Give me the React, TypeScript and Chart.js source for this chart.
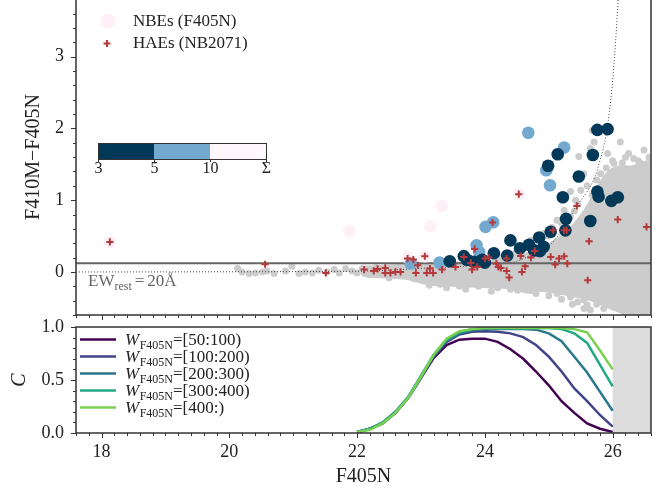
import React, { useEffect, useRef } from 'react';
import { Chart, registerables } from 'chart.js';
Chart.register(...registerables);

const SERIF = '"Liberation Serif", "Times New Roman", serif';
const TXT = '#222';

// ---------------- top panel data (x = F405N, y = F410M - F405N) ----------------
const xMin = 17.6;
const xMax = 26.6;
const yTopMin = -0.6;
const yTopMax = 3.79;
const ewLevel = 0.12;

// dense grey cloud envelope (upper edge left->right, then lower edge right->left)
const cloudMag = [22.1, 22.5, 23.0, 23.5, 24.0, 24.3, 24.6, 24.9, 25.1, 25.3, 25.5, 25.65, 25.8, 25.95, 26.1, 26.3, 26.6,
  26.6, 26.3, 26.0, 25.7, 25.3, 24.9, 24.5, 24.0, 23.5, 23.1, 22.8, 22.5, 22.1, 22.1];
const cloudColor = [0.05, 0.07, 0.09, 0.11, 0.13, 0.16, 0.22, 0.32, 0.42, 0.55, 0.75, 0.95, 1.2, 1.38, 1.45, 1.45, 1.5,
  -0.6, -0.58, -0.5, -0.38, -0.3, -0.24, -0.21, -0.19, -0.17, -0.15, -0.08, -0.06, -0.03, 0.05];

// individual grey sources
const greyMag = [20.13, 20.2, 20.31, 20.41, 20.52, 20.59, 20.7, 20.88, 20.98, 21.09, 21.19, 21.3, 21.4, 21.53, 21.64, 21.72,
  21.82, 21.92, 22.0, 22.08, 22.2, 22.3, 22.5, 22.7, 22.9, 23.13, 23.3, 23.6, 23.9, 24.2, 24.4, 24.6, 24.51, 24.66, 24.72, 24.87,
  25.13, 25.34, 25.37, 25.55, 25.71, 25.81, 25.92, 25.55, 25.65, 25.86, 26.05, 26.18, 26.39, 26.28, 26.5,
  25.68, 25.71, 26.12, 26.25, 26.49, 25.47, 25.92, 25.65, 25.55, 25.34, 25.5, 25.42, 25.68, 25.81, 26.02, 26.2, 26.33,
  26.44, 26.57, 25.24, 25.34, 25.13, 24.92, 24.72, 24.45, 24.25, 23.95,
  24.3, 24.5, 24.7, 24.8, 25.0, 25.05, 25.2, 25.4, 25.45, 25.6, 25.75, 25.9, 26.0, 26.15, 26.4, 26.55,
  23.4, 23.7, 24.1, 24.8, 25.0, 25.2, 25.45, 25.6, 25.75];
const greyColor = [0.047, 0, -0.023, -0.014, 0, 0.014, -0.023, 0.014, 0.08, -0.023, 0, -0.014, 0.023, 0, 0.033, -0.014,
  0.047, 0.014, -0.014, 0.047, -0.04, 0.06, -0.08, 0.08, -0.1, -0.186, -0.17, -0.2, -0.2, -0.22, -0.24, -0.24, -0.255, -0.255, -0.26, -0.23,
  -0.3, -0.35, -0.45, -0.39, -0.37, -0.42, -0.44, -0.51, -0.53, -0.51, -0.45, -0.56, -0.58, -0.44, -0.5,
  1.97, 1.81, 1.81, 1.65, 1.7, 1.61, 1.65, 1.72, 1.37, 1.12, 1.14, 1.0, 1.07, 1.37, 1.51, 1.6, 1.58,
  1.51, 1.6, 0.86, 0.77, 0.72, 0.535, 0.44, 0.25, 0.2, 0.16,
  0.22, 0.28, 0.38, 0.45, 0.5, 0.62, 0.68, 0.85, 0.95, 1.2, 1.28, 1.45, 1.55, 1.52, 1.55, 1.45,
  -0.22, -0.24, -0.27, -0.3, -0.33, -0.38, -0.42, -0.46, -0.45];

// EW_rest = 20A selection curve
const ewCurveMag = [17.6, 22.0, 22.6, 23.0, 23.5, 24.0, 24.5, 24.75, 25.0, 25.11, 25.26, 25.42, 25.6, 25.71, 25.81, 25.89, 25.97, 26.03, 26.09];
const ewCurveColor = [0, 0.01, 0.03, 0.05, 0.07, 0.1, 0.15, 0.25, 0.36, 0.465, 0.65, 0.9, 1.12, 1.3, 1.58, 1.88, 2.39, 3.0, 3.85];

// NBEs coloured by significance: Sigma (pink), 5-10 (light blue), 3-5 (dark)
const nbeSigMag = [18.13, 21.88, 23.33, 23.14, 24.53, 22.79, 23.06];
const nbeSigColor = [0.418, 0.572, 0.92, 0.637, 1.084, 0.2, 0.219];
const nbe5Mag = [24.68, 25.24, 24.96, 25.02, 24.01, 24.13, 23.87, 23.91, 23.29, 22.84];
const nbe5Color = [1.94, 1.735, 1.418, 1.209, 0.628, 0.693, 0.372, 0.279, 0.131, 0.117];
const nbe3Mag = [23.45, 23.67, 23.72, 23.83, 23.96, 24.0, 24.14, 24.35, 24.4, 24.55, 24.69, 24.77, 24.85, 24.92, 24.86,
  25.03, 25.26, 25.27, 25.22, 25.65, 25.47, 25.76, 25.78, 25.98, 26.08, 24.99, 25.14, 25.69, 25.76, 25.92];
const nbe3Color = [0.15, 0.22, 0.17, 0.14, 0.17, 0.13, 0.26, 0.23, 0.44, 0.33, 0.38, 0.3, 0.48, 0.35, 0.29,
  0.56, 0.58, 0.74, 1.04, 0.71, 1.33, 1.12, 1.05, 0.99, 1.04, 1.48, 1.64, 1.63, 1.98, 1.99];

// HAEs (NB2071)
const haeMag = [18.13, 20.56, 21.51, 22.11, 22.26, 22.32, 22.44, 22.44, 22.52, 22.6, 22.68, 22.79, 22.88, 22.95, 22.92,
  23.06, 23.14, 23.09, 23.19, 23.33, 23.54, 23.67, 23.78, 23.8, 23.84, 23.88, 24.0, 24.06, 24.12, 24.18, 24.21, 24.25,
  24.34, 24.34, 24.38, 24.53, 24.56, 24.58, 24.63, 24.72, 24.78, 25.03, 25.07, 25.1, 25.16, 25.24, 25.28, 25.24, 25.29,
  25.44, 25.63, 25.61, 26.08, 26.53];
const haeColor = [0.418, 0.107, -0.014, 0.033, 0.014, 0.042, 0.056, -0.014, -0.014, 0, 0, 0.187, 0.173, 0.093, -0.014,
  0.219, 0.047, -0.014, -0.014, 0.033, 0.07, 0.209, 0.126, 0.033, 0.321, 0.07, 0.187, 0.201, 0.689, 0.117, 0.07, 0.056,
  0.187, 0.014, -0.078, 1.084, 0.223, 0, 0.079, 0.2, 0.293, 0.209, 0.58, 0.103, 0.187, 0.58, 0.58, 0.219, 0.117,
  0.92, 0.428, -0.116, 0.73, 0.628];

const topYTicks = [0, 1, 2, 3];
const cbarLabels = ['3', '5', '10', 'Σ'];
const cbarColors = ['#023858', '#74a9cf', '#fff7fb'];

// ---------------- bottom panel data (completeness) ----------------
const compMag = [22.0, 22.2, 22.4, 22.6, 22.8, 23.0, 23.2, 23.4, 23.6, 23.8, 24.0, 24.2, 24.4, 24.6, 24.8, 25.0, 25.2, 25.4, 25.6, 25.8, 26.0];
const compW50 = [0.006, 0.04, 0.09, 0.19, 0.33, 0.52, 0.71, 0.83, 0.88, 0.89, 0.89, 0.86, 0.79, 0.7, 0.58, 0.45, 0.3, 0.19, 0.09, 0.04, 0.01];
const compW100 = [0.01, 0.04, 0.09, 0.19, 0.33, 0.52, 0.72, 0.86, 0.93, 0.955, 0.96, 0.955, 0.94, 0.905, 0.83, 0.72, 0.58, 0.42, 0.3, 0.17, 0.06];
const compW200 = [0.01, 0.04, 0.1, 0.2, 0.34, 0.53, 0.73, 0.87, 0.94, 0.97, 0.98, 0.98, 0.98, 0.98, 0.975, 0.94, 0.865, 0.72, 0.57, 0.39, 0.21];
const compW300 = [0.01, 0.04, 0.1, 0.2, 0.34, 0.54, 0.74, 0.88, 0.95, 0.98, 0.99, 0.99, 0.99, 0.99, 0.99, 0.99, 0.98, 0.94, 0.85, 0.645, 0.44];
const compW400 = [0.01, 0.03, 0.09, 0.19, 0.33, 0.53, 0.74, 0.89, 0.96, 0.98, 0.99, 0.99, 0.99, 0.99, 0.99, 0.99, 0.99, 0.98, 0.95, 0.78, 0.6];
const compSeries = [compW50, compW100, compW200, compW300, compW400];
const compLabels = ['=[50:100)', '=[100:200)', '=[200:300)', '=[300:400)', '=[400:)'];
const compColors = ['#440154', '#414487', '#2a788e', '#22a884', '#7ad151'];
const maskStart = 26.0;
const botXTicks = [18, 20, 22, 24, 26];
const botYTicks = [0, 0.5, 1];

const pts = (xs: number[], ys: number[]) => xs.map((x, i) => ({ x, y: ys[i] }));

const noPad = (s: any) => { s.paddingTop = 0; s.paddingBottom = 0; s.paddingLeft = 0; s.paddingRight = 0; };

const BOT_TOP = 300; // page y of the bottom canvas

function drawXTicks(ctx: CanvasRenderingContext2D, sx: any, yPix: number) {
  ctx.beginPath();
  for (let i = 88; i <= 133; i++) {
    const v = i * 0.2;
    const major = Math.abs(v / 2 - Math.round(v / 2)) < 1e-6;
    const px = Math.round(sx.getPixelForValue(v)) + 0.5;
    ctx.moveTo(px, yPix);
    ctx.lineTo(px, yPix + (major ? 5 : 3));
  }
  ctx.stroke();
}

const topDecor = {
  id: 'topDecor',
  afterDraw(chart: any) {
    const { ctx, chartArea: a, scales } = chart;
    const sx = scales.x, sy = scales.y;
    ctx.save();
    ctx.strokeStyle = '#333';
    ctx.lineWidth = 1.5;
    ctx.beginPath();
    ctx.moveTo(a.left, a.top);
    ctx.lineTo(a.left, a.bottom);
    ctx.lineTo(a.right, a.bottom);
    ctx.lineTo(a.right, a.top);
    ctx.stroke();
    ctx.lineWidth = 1;
    // y ticks
    ctx.beginPath();
    for (let i = -3; i <= 19; i++) {
      const v = i * 0.2;
      const major = Math.abs(v - Math.round(v)) < 1e-6;
      const py = Math.round(sy.getPixelForValue(v)) + 0.5;
      ctx.moveTo(a.left, py);
      ctx.lineTo(a.left - (major ? 5 : 3), py);
    }
    ctx.stroke();
    drawXTicks(ctx, sx, a.bottom);

    // y title
    ctx.fillStyle = TXT;
    ctx.font = `20px ${SERIF}`;
    ctx.textAlign = 'center';
    ctx.textBaseline = 'middle';
    ctx.save();
    ctx.translate(34, 157);
    ctx.rotate(-Math.PI / 2);
    ctx.fillText('F410M\u2212F405N', 0, 0);
    ctx.restore();

    // legend
    ctx.textAlign = 'left';
    ctx.font = `17px ${SERIF}`;
    ctx.fillStyle = '#fff0f7';
    ctx.beginPath();
    ctx.arc(108, 21, 7.5, 0, Math.PI * 2);
    ctx.fill();
    ctx.fillStyle = TXT;
    ctx.fillText('NBEs (F405N)', 133, 22);
    ctx.strokeStyle = '#b5393b';
    ctx.lineWidth = 2;
    ctx.beginPath();
    ctx.moveTo(103.5, 43.5); ctx.lineTo(110.5, 43.5);
    ctx.moveTo(107, 40); ctx.lineTo(107, 47);
    ctx.stroke();
    ctx.fillText('HAEs (NB2071)', 133, 44);

    // colour bar
    const cbL = 98, cbT = 143, cbW = 168, cbH = 16;
    const seg = cbW / 3;
    for (let i = 0; i < 3; i++) {
      ctx.fillStyle = cbarColors[i];
      ctx.fillRect(cbL + i * seg, cbT, seg, cbH);
    }
    ctx.strokeStyle = '#333';
    ctx.lineWidth = 1;
    ctx.strokeRect(cbL + 0.5, cbT + 0.5, cbW, cbH);
    ctx.beginPath();
    ctx.font = `16px ${SERIF}`;
    ctx.fillStyle = TXT;
    ctx.textAlign = 'center';
    for (let i = 0; i < 4; i++) {
      const px = Math.round(cbL + i * seg) + 0.5;
      ctx.moveTo(px, cbT + cbH);
      ctx.lineTo(px, cbT + cbH + 3);
      ctx.fillText(cbarLabels[i], px, 169);
    }
    ctx.stroke();

    // EW label
    ctx.fillStyle = '#666';
    ctx.textAlign = 'left';
    ctx.textBaseline = 'alphabetic';
    ctx.font = `17px ${SERIF}`;
    let x0 = 88;
    ctx.fillText('EW', x0, 286);
    x0 += ctx.measureText('EW').width;
    ctx.font = `12px ${SERIF}`;
    ctx.fillText('rest', x0, 290);
    x0 += ctx.measureText('rest').width + 3;
    ctx.font = `17px ${SERIF}`;
    ctx.fillText('=', x0, 286);
    x0 += ctx.measureText('=').width + 3;
    ctx.fillText('20Å', x0, 286);
    ctx.restore();
  },
};

const botDecor = {
  id: 'botDecor',
  beforeDatasetsDraw(chart: any) {
    const { ctx, chartArea: a, scales } = chart;
    const px = scales.x.getPixelForValue(maskStart);
    ctx.save();
    ctx.fillStyle = '#dcdcdc';
    ctx.fillRect(px, a.top, a.right - px, a.bottom - a.top);
    ctx.restore();
  },
  afterDraw(chart: any) {
    const { ctx, chartArea: a, scales } = chart;
    const sx = scales.x, sy = scales.y;
    ctx.save();
    ctx.strokeStyle = '#333';
    ctx.lineWidth = 1.5;
    ctx.strokeRect(a.left, a.top, a.right - a.left, a.bottom - a.top);
    ctx.lineWidth = 1;
    ctx.beginPath();
    for (let i = 0; i <= 10; i++) {
      const v = i * 0.1;
      const major = i % 5 === 0;
      const py = Math.round(sy.getPixelForValue(v)) + 0.5;
      ctx.moveTo(a.left, py);
      ctx.lineTo(a.left - (major ? 5 : 3), py);
    }
    ctx.stroke();
    drawXTicks(ctx, sx, a.bottom);

    // titles
    ctx.fillStyle = TXT;
    ctx.textAlign = 'center';
    ctx.textBaseline = 'middle';
    ctx.font = `20px ${SERIF}`;
    ctx.fillText('F405N', (a.left + a.right) / 2, 477 - BOT_TOP);
    ctx.save();
    ctx.translate(20, 380 - BOT_TOP);
    ctx.rotate(-Math.PI / 2);
    ctx.font = `italic 20px ${SERIF}`;
    ctx.fillText('C', 0, 0);
    ctx.restore();

    // legend
    ctx.textAlign = 'left';
    ctx.textBaseline = 'alphabetic';
    for (let i = 0; i < compLabels.length; i++) {
      const yy = 339.5 - BOT_TOP + i * 17;
      ctx.strokeStyle = compColors[i];
      ctx.lineWidth = 2.5;
      ctx.beginPath();
      ctx.moveTo(80, yy);
      ctx.lineTo(116, yy);
      ctx.stroke();
      let x0 = 125;
      ctx.fillStyle = TXT;
      ctx.font = `italic 17px ${SERIF}`;
      ctx.fillText('W', x0, yy + 5.5);
      x0 += ctx.measureText('W').width + 0.5;
      ctx.font = `12px ${SERIF}`;
      ctx.fillText('F405N', x0, yy + 9);
      x0 += ctx.measureText('F405N').width;
      ctx.font = `17px ${SERIF}`;
      ctx.fillText(compLabels[i], x0, yy + 5.5);
    }
    ctx.restore();
  },
};

function App() {
  const topRef = useRef<HTMLCanvasElement>(null);
  const botRef = useRef<HTMLCanvasElement>(null);

  useEffect(() => {
    document.body.style.margin = '0';
    const tickFont = { family: SERIF, size: 18 };

    const top = new Chart(topRef.current as HTMLCanvasElement, {
      type: 'scatter',
      data: {
        datasets: [
          {
            label: 'HAEs (NB2071)', data: pts(haeMag, haeColor), order: 0,
            pointStyle: 'cross', pointRadius: 3.6, borderColor: '#b5393b', borderWidth: 2, backgroundColor: '#b5393b',
          },
          {
            label: 'NBE 3-5', data: pts(nbe3Mag, nbe3Color), order: 1,
            pointRadius: 6.3, backgroundColor: cbarColors[0], borderWidth: 0,
          },
          {
            label: 'NBE 5-10', data: pts(nbe5Mag, nbe5Color), order: 2,
            pointRadius: 6.3, backgroundColor: cbarColors[1], borderWidth: 0,
          },
          {
            label: 'NBE Sigma', data: pts(nbeSigMag, nbeSigColor), order: 3,
            pointRadius: 6.3, backgroundColor: '#fff0f7', borderWidth: 0,
          },
          {
            type: 'line', label: 'EW level', data: pts([xMin, xMax], [ewLevel, ewLevel]), order: 4,
            borderColor: '#666', borderWidth: 2, pointRadius: 0, fill: false,
          } as any,
          {
            type: 'line', label: 'EW curve', data: pts(ewCurveMag, ewCurveColor), order: 5,
            borderColor: '#444', borderWidth: 1, borderDash: [1, 2], pointRadius: 0, fill: false,
            cubicInterpolationMode: 'monotone',
          } as any,
          {
            label: 'all', data: pts(greyMag, greyColor), order: 6,
            pointRadius: 3.5, backgroundColor: '#cccccc', borderWidth: 0,
          },
          {
            type: 'line', label: 'cloud', data: pts(cloudMag, cloudColor), order: 7,
            borderColor: '#cccccc', borderWidth: 5, backgroundColor: '#cccccc', pointRadius: 0,
            fill: 'shape', tension: 0.3,
          } as any,
        ],
      },
      options: {
        responsive: false,
        animation: false,
        devicePixelRatio: 1,
        layout: { padding: { left: 0, right: 20, top: 0, bottom: 7 }, autoPadding: false } as any,
        plugins: { legend: { display: false }, tooltip: { enabled: false } },
        scales: {
          x: {
            type: 'linear', min: xMin, max: xMax,
            grid: { display: false, drawTicks: false }, border: { display: false },
            ticks: { display: false },
            afterFit: (s: any) => { s.height = 0; noPad(s); },
          },
          y: {
            type: 'linear', min: yTopMin, max: yTopMax,
            grid: { display: false, drawTicks: false }, border: { display: false },
            ticks: { font: tickFont, color: TXT, padding: 12, callback: (v: any) => String(v) },
            afterBuildTicks: (s: any) => { s.ticks = topYTicks.map((v) => ({ value: v })); },
            afterFit: (s: any) => { s.width = 76; noPad(s); },
          },
        },
      },
      plugins: [topDecor],
    } as any);

    const bot = new Chart(botRef.current as HTMLCanvasElement, {
      type: 'line',
      data: {
        datasets: compSeries.map((ys, i) => ({
          label: 'W' + compLabels[i], data: pts(compMag, ys), order: 4 - i,
          borderColor: compColors[i], borderWidth: 2.5, pointRadius: 0, tension: 0, fill: false,
        })),
      },
      options: {
        responsive: false,
        animation: false,
        devicePixelRatio: 1,
        layout: { padding: { left: 0, right: 20, top: 327 - BOT_TOP, bottom: 0 }, autoPadding: false } as any,
        plugins: { legend: { display: false }, tooltip: { enabled: false } },
        scales: {
          x: {
            type: 'linear', min: xMin, max: xMax,
            grid: { display: false, drawTicks: false }, border: { display: false },
            ticks: { font: tickFont, color: TXT, padding: 8, maxRotation: 0, autoSkip: false, callback: (v: any) => String(v) },
            afterBuildTicks: (s: any) => { s.ticks = botXTicks.map((v) => ({ value: v })); },
            afterFit: (s: any) => { s.height = 60; noPad(s); },
          },
          y: {
            type: 'linear', min: 0, max: 1,
            grid: { display: false, drawTicks: false }, border: { display: false },
            ticks: { font: tickFont, color: TXT, padding: 12, callback: (v: any) => Number(v).toFixed(1) },
            afterBuildTicks: (s: any) => { s.ticks = botYTicks.map((v) => ({ value: v })); },
            afterFit: (s: any) => { s.width = 76; noPad(s); },
          },
        },
      },
      plugins: [botDecor],
    } as any);

    return () => { top.destroy(); bot.destroy(); };
  }, []);

  return (
    <div style={{ position: 'absolute', left: 0, top: 0, width: 671, height: 493, background: '#fff' }}>
      <canvas ref={topRef} width={671} height={322} style={{ position: 'absolute', left: 0, top: 0, width: 671, height: 322 }} />
      <canvas ref={botRef} width={671} height={493 - BOT_TOP} style={{ position: 'absolute', left: 0, top: BOT_TOP, width: 671, height: 493 - BOT_TOP }} />
    </div>
  );
}

export default App;
